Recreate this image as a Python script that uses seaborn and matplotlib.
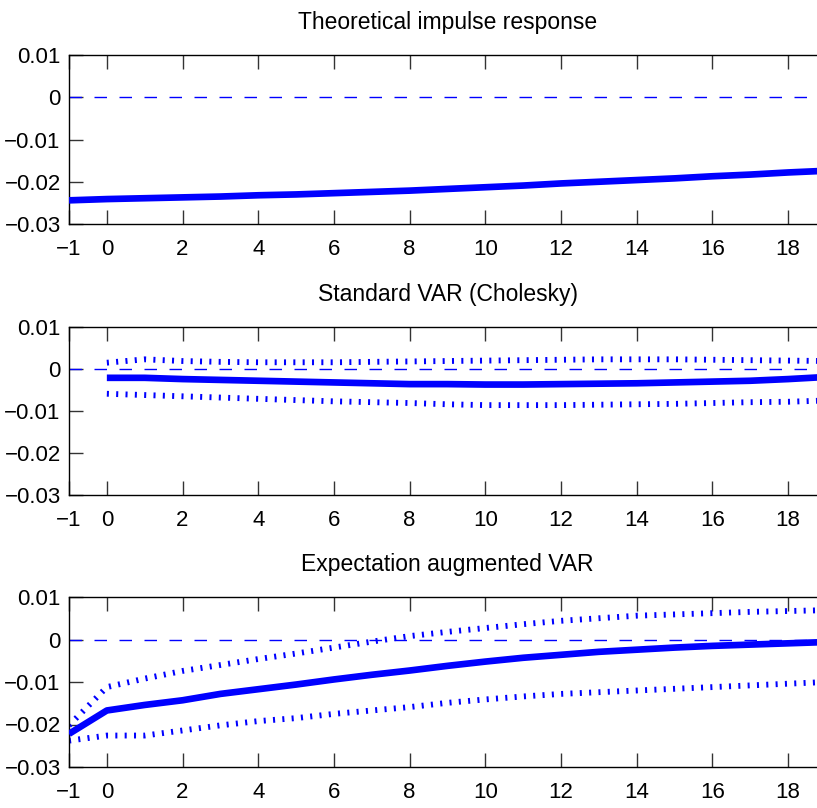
import numpy as np
import pandas as pd
import matplotlib
matplotlib.use("Agg")
import matplotlib.pyplot as plt
import seaborn as sns

# ---------------- data ----------------
titles = ["Theoretical impulse response", "Standard VAR (Cholesky)", "Expectation augmented VAR"]

x_theory = [-1, 0, 1, 2, 3, 4, 5, 6, 7, 8, 9, 10, 11, 12, 13, 14, 15, 16, 17, 18, 19]
theory = [-0.0244, -0.0241, -0.0239, -0.0237, -0.0235, -0.0232, -0.0230, -0.0227, -0.0224,
          -0.0221, -0.0217, -0.0213, -0.0209, -0.0204, -0.0200, -0.0196, -0.0192, -0.0187,
          -0.0183, -0.0178, -0.0174]

x_std = [0, 1, 2, 3, 4, 5, 6, 7, 8, 9, 10, 11, 12, 13, 14, 15, 16, 17, 18, 19]
std_mid = [-0.0021, -0.0021, -0.0024, -0.0026, -0.0028, -0.0030, -0.0032, -0.0034, -0.0036,
           -0.0036, -0.0037, -0.0037, -0.0036, -0.0035, -0.0034, -0.0032, -0.0030, -0.0028,
           -0.0024, -0.0019]
std_up = [0.0015, 0.0023, 0.0019, 0.0017, 0.0016, 0.0016, 0.0016, 0.0017, 0.0018, 0.0019,
          0.0020, 0.0021, 0.0022, 0.0023, 0.0023, 0.0023, 0.0022, 0.0021, 0.0020, 0.0019]
std_lo = [-0.0059, -0.0062, -0.0065, -0.0068, -0.0071, -0.0074, -0.0077, -0.0079, -0.0081,
          -0.0084, -0.0086, -0.0086, -0.0086, -0.0085, -0.0084, -0.0083, -0.0081, -0.0079,
          -0.0078, -0.0075]

x_exp = [-1, 0, 1, 2, 3, 4, 5, 6, 7, 8, 9, 10, 11, 12, 13, 14, 15, 16, 17, 18, 19]
exp_mid = [-0.0222, -0.0167, -0.0154, -0.0143, -0.0128, -0.0117, -0.0106, -0.0094, -0.0083,
           -0.0073, -0.0062, -0.0052, -0.0043, -0.0036, -0.0029, -0.0024, -0.0019, -0.0015,
           -0.0012, -0.0009, -0.0006]
exp_up = [-0.0202, -0.0112, -0.0092, -0.0074, -0.0060, -0.0046, -0.0033, -0.0019, -0.0005,
          0.0008, 0.0018, 0.0027, 0.0036, 0.0044, 0.0050, 0.0056, 0.0059, 0.0062, 0.0065,
          0.0067, 0.0069]
exp_lo = [-0.0238, -0.0226, -0.0226, -0.0214, -0.0202, -0.0192, -0.0185, -0.0175, -0.0167,
          -0.0159, -0.0149, -0.0141, -0.0134, -0.0128, -0.0124, -0.0120, -0.0116, -0.0112,
          -0.0108, -0.0104, -0.0100]

xticks = [-1, 0, 2, 4, 6, 8, 10, 12, 14, 16, 18]
yticks = [-0.03, -0.02, -0.01, 0, 0.01]
yticklabels = ["\u22120.03", "\u22120.02", "\u22120.01", "0", "0.01"]
xticklabels = ["\u22121" if t < 0 else str(t) for t in xticks]

# ---------------- style ----------------
sns.set_style("ticks")
plt.rcParams['font.family'] = ['Liberation Sans Narrow', 'Liberation Sans', 'DejaVu Sans']
plt.rcParams['axes.unicode_minus'] = True

BLUE = (0, 0, 1)
fig = plt.figure(figsize=(8.17, 8.08), dpi=100)

W, H = 817.0, 808.0
left_px, right_px = 69, 826
panels_px = [(55, 224), (327, 495), (597, 767)]

series = [
    (x_theory, theory, None, None, None),
    (x_std, std_mid, std_up, std_lo, x_std),
    (x_exp, exp_mid, exp_up, exp_lo, x_exp),
]

for i, (top, bot) in enumerate(panels_px):
    ax = fig.add_axes([left_px / W, 1 - bot / H, (right_px - left_px) / W, (bot - top) / H])
    xs, mid, up, lo, xb = series[i]
    ax.axhline(0, color=BLUE, lw=1.0, linestyle=(0, (9, 9)), zorder=1)
    if up is not None:
        dfb = pd.DataFrame({"h": xb, "up": up, "lo": lo})
        for col in ["up", "lo"]:
            sns.lineplot(data=dfb, x="h", y=col, ax=ax, color=BLUE, lw=4.2,
                         linestyle=(0, (0.35, 1.25)), dash_capstyle='butt', zorder=2)
    df = pd.DataFrame({"h": xs, "v": mid})
    sns.lineplot(data=df, x="h", y="v", ax=ax, color=BLUE, lw=4.8,
                 solid_capstyle='butt', zorder=3)
    ax.set_xlim(-1, 19)
    ax.set_ylim(-0.03, 0.01)
    ax.set_xticks(xticks)
    ax.set_xticklabels(xticklabels)
    ax.set_yticks(yticks)
    ax.set_yticklabels(yticklabels)
    ax.set_xlabel("")
    ax.set_ylabel("")
    ax.tick_params(direction='in', length=10, width=1, top=True, right=False,
                   labelsize=16, color='#333333', labelcolor='black')
    ax.tick_params(axis='x', pad=11)
    ax.tick_params(axis='y', pad=6)
    for s in ax.spines.values():
        s.set_visible(True)
        s.set_color('black')
        s.set_linewidth(1.0)
    ax.set_title(titles[i], fontsize=16.5, pad=19, color='black')

fig.savefig("out.png", dpi=100)
